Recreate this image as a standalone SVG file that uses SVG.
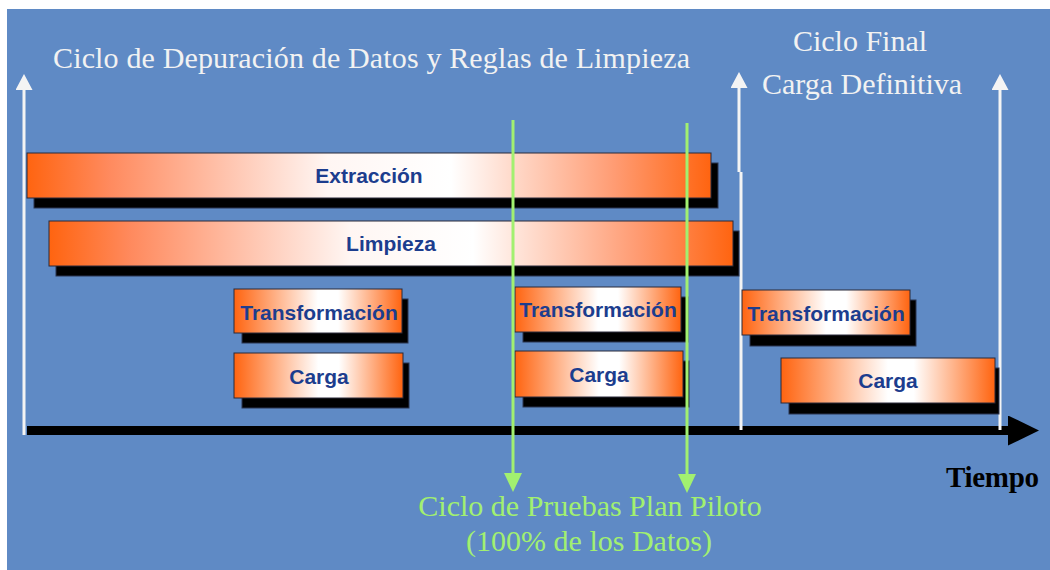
<svg xmlns="http://www.w3.org/2000/svg" width="1050" height="570" viewBox="0 0 1050 570">
<defs>
<style>
.bar{stroke:#2a2a3a;stroke-width:1}
.shadow{fill:#000;stroke:#2a3550;stroke-width:1}
.lbl{font-family:"Liberation Sans",Arial,sans-serif;font-weight:bold;font-size:21px;fill:#1C3D8E;text-anchor:middle}
.ttl{font-family:"Liberation Serif","Times New Roman",serif;font-size:30px;fill:#F2F2F2}
.grn{font-family:"Liberation Serif","Times New Roman",serif;font-size:30px;fill:#A2F070;text-anchor:middle}
.wline{stroke:#F4F4F4;stroke-width:3;fill:none}
.gline{stroke:#A2F070;stroke-width:3;fill:none}
</style>
<linearGradient id="gBig" x1="0" y1="0" x2="1" y2="0">
<stop offset="0" stop-color="#FF6410"/>
<stop offset="0.12" stop-color="#FF8A5E"/>
<stop offset="0.44" stop-color="#FFF6F3"/>
<stop offset="0.62" stop-color="#FFFFFF"/>
<stop offset="0.86" stop-color="#FF9B72"/>
<stop offset="1" stop-color="#FF6410"/>
</linearGradient>
<linearGradient id="gSmall" x1="0" y1="0" x2="1" y2="0">
<stop offset="0" stop-color="#FF6410"/>
<stop offset="0.5" stop-color="#FFFFFF"/>
<stop offset="0.62" stop-color="#FFFFFF"/>
<stop offset="1" stop-color="#FF6410"/>
</linearGradient>
<marker id="mWhite" viewBox="0 0 16 17" refX="0" refY="8.5" markerWidth="16" markerHeight="17" markerUnits="userSpaceOnUse" orient="auto">
<path d="M0,0 L16,8.5 L0,17 z" fill="#F4F4F4"/>
</marker>
<marker id="mGreen" viewBox="0 0 19 18" refX="0" refY="9" markerWidth="19" markerHeight="18" markerUnits="userSpaceOnUse" orient="auto">
<path d="M0,0 L19,9 L0,18 z" fill="#A2F070"/>
</marker>
<marker id="mBlack" viewBox="0 0 31 30" refX="0" refY="15" markerWidth="31" markerHeight="30" markerUnits="userSpaceOnUse" orient="auto">
<path d="M0,0 L31,15 L0,30 z" fill="#000"/>
</marker>
</defs>

<rect x="0" y="0" width="1050" height="570" fill="#FFFFFF"/>
<rect x="7" y="9" width="1043" height="561" fill="#5F8AC5"/>

<g id="titles">
<text class="ttl" x="53" y="68" textLength="637">Ciclo de Depuración de Datos y Reglas de Limpieza</text>
<text class="ttl" x="860" y="51" text-anchor="middle">Ciclo Final</text>
<text class="ttl" x="862" y="94" text-anchor="middle">Carga Definitiva</text>
</g>

<g id="connectors">
<line x1="27" y1="430.5" x2="1008" y2="430.5" stroke="#000" stroke-width="9" marker-end="url(#mBlack)"/>
<line class="wline" x1="24" y1="435" x2="24" y2="90" marker-end="url(#mWhite)"/>
<path class="wline" d="M741,430 V172 M739,172 V88" marker-end="url(#mWhite)"/>
<line class="wline" x1="1000" y1="430" x2="1000" y2="90" marker-end="url(#mWhite)"/>
</g>

<g id="extraccion">
<rect class="shadow" x="34" y="163" width="684" height="45"/>
<rect class="bar" x="27" y="153" width="684" height="45" fill="url(#gBig)"/>
<text class="lbl" x="369" y="183">Extracción</text>
</g>
<g id="limpieza">
<rect class="shadow" x="56" y="231" width="683" height="45"/>
<rect class="bar" x="49" y="221" width="684" height="45" fill="url(#gBig)"/>
<text class="lbl" x="391" y="251">Limpieza</text>
</g>

<g id="transformacion1">
<rect class="shadow" x="242" y="299" width="166" height="44"/>
<rect class="bar" x="234" y="289" width="168" height="44" fill="url(#gSmall)"/>
<text class="lbl" x="319" y="320">Transformación</text>
</g>
<g id="carga1">
<rect class="shadow" x="242" y="363" width="167" height="45"/>
<rect class="bar" x="234" y="353" width="169" height="45" fill="url(#gSmall)"/>
<text class="lbl" x="319" y="384">Carga</text>
</g>

<g id="transformacion2">
<rect class="shadow" x="523" y="297" width="165" height="45"/>
<rect class="bar" x="515" y="287" width="166" height="45" fill="url(#gSmall)"/>
<text class="lbl" x="598" y="317">Transformación</text>
</g>
<g id="carga2">
<rect class="shadow" x="523" y="361" width="166" height="46"/>
<rect class="bar" x="515" y="351" width="168" height="46" fill="url(#gSmall)"/>
<text class="lbl" x="599" y="382">Carga</text>
</g>

<g id="transformacion3">
<rect class="shadow" x="750" y="300" width="166" height="46"/>
<rect class="bar" x="742" y="290" width="168" height="45" fill="url(#gSmall)"/>
<text class="lbl" x="826" y="321">Transformación</text>
</g>
<g id="carga3">
<rect class="shadow" x="789" y="368" width="210" height="46"/>
<rect class="bar" x="781" y="358" width="214" height="45" fill="url(#gSmall)"/>
<text class="lbl" x="888" y="388">Carga</text>
</g>

<g id="connectors-green">
<line class="gline" x1="513" y1="120" x2="513" y2="473" marker-end="url(#mGreen)"/>
<line class="gline" x1="687" y1="123" x2="687" y2="474" marker-end="url(#mGreen)"/>
</g>

<g id="labels">
<text x="946" y="487" font-family="'Liberation Serif','Times New Roman',serif" font-size="29" font-weight="bold" fill="#000" textLength="93">Tiempo</text>
<text class="grn" x="590" y="516">Ciclo de Pruebas Plan Piloto</text>
<text class="grn" x="589" y="551">(100% de los Datos)</text>
</g>
</svg>
